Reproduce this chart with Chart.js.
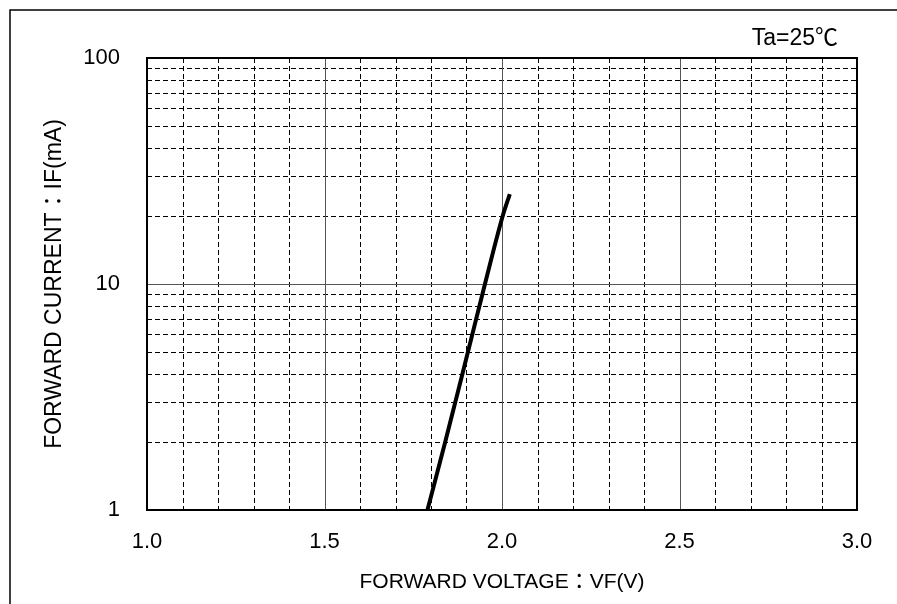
<!DOCTYPE html>
<html>
<head>
<meta charset="utf-8">
<script src="https://cdn.jsdelivr.net/npm/chart.js@4.4.1/dist/chart.umd.min.js"></script>
<style>
  html, body { margin: 0; padding: 0; background: #fff; }
  #wrap { width: 897px; height: 604px; position: relative; }
</style>
</head>
<body>
<div id="wrap"><canvas id="myChart"></canvas></div>
<script>
// forward voltage (V) vs forward current (mA)
const forwardVoltage = [1.79, 1.84, 1.904, 1.952, 2.002, 2.022];
const forwardCurrent = [1, 2, 5, 10, 20, 25];

const xTicks = [1.0, 1.5, 2.0, 2.5, 3.0];
const xMinorGrid = [1.1, 1.2, 1.3, 1.4, 1.6, 1.7, 1.8, 1.9, 2.1, 2.2, 2.3, 2.4, 2.6, 2.7, 2.8, 2.9];
const xMajorGrid = [1.5, 2.0, 2.5];
const yTicks = [1, 10, 100];
const yMinorGrid = [2, 3, 4, 5, 6, 7, 8, 9, 20, 30, 40, 50, 60, 70, 80, 90];
const yMajorGrid = [10];

const FONT = "'Liberation Sans', Arial, 'Noto Sans CJK JP', sans-serif";

// dashed/solid grid paper + frame + Ta note
const paperPlugin = {
    id: "paper",
    beforeDatasetsDraw(chart) {
        const ctx = chart.ctx;
        const area = chart.chartArea;
        const xs = chart.scales.x;
        const ys = chart.scales.y;
        ctx.save();

        // minor dashed lines
        ctx.strokeStyle = "#000";
        ctx.lineWidth = 1;
        ctx.setLineDash([5, 3]);
        xMinorGrid.forEach(v => {
            const px = Math.round(xs.getPixelForValue(v)) + 0.5;
            ctx.beginPath();
            ctx.moveTo(px, area.top);
            ctx.lineTo(px, area.bottom);
            ctx.stroke();
        });
        yMinorGrid.forEach(v => {
            const py = Math.round(ys.getPixelForValue(v)) + 0.5;
            ctx.beginPath();
            ctx.moveTo(area.left, py);
            ctx.lineTo(area.right, py);
            ctx.stroke();
        });

        // major solid lines
        ctx.setLineDash([]);
        ctx.strokeStyle = "#555";
        xMajorGrid.forEach(v => {
            const px = Math.round(xs.getPixelForValue(v)) + 0.5;
            ctx.beginPath();
            ctx.moveTo(px, area.top);
            ctx.lineTo(px, area.bottom);
            ctx.stroke();
        });
        yMajorGrid.forEach(v => {
            const py = Math.round(ys.getPixelForValue(v)) + 0.5;
            ctx.beginPath();
            ctx.moveTo(area.left, py);
            ctx.lineTo(area.right, py);
            ctx.stroke();
        });

        // plot border
        ctx.strokeStyle = "#000";
        ctx.lineWidth = 2;
        ctx.strokeRect(area.left, area.top, area.right - area.left, area.bottom - area.top);

        // outer frame (only left and top visible)
        ctx.lineWidth = 1.5;
        ctx.beginPath();
        ctx.moveTo(10, chart.height);
        ctx.lineTo(10, 10);
        ctx.lineTo(chart.width, 10);
        ctx.stroke();

        // temperature note
        ctx.fillStyle = "#000";
        ctx.font = "23px " + FONT;
        ctx.textAlign = "right";
        ctx.textBaseline = "middle";
        ctx.fillText("Ta=25℃", 838, 39);
        ctx.restore();
    }
};

const ctx = document.getElementById("myChart").getContext("2d");
const chartInstance = new Chart(ctx, {
    type: "line",
    data: {
        datasets: [{
            data: forwardVoltage.map((v, i) => ({ x: v, y: forwardCurrent[i] })),
            borderColor: "#000",
            borderWidth: 4,
            pointRadius: 0,
            cubicInterpolationMode: "monotone",
            fill: false
        }]
    },
    options: {
        responsive: true,
        maintainAspectRatio: false,
        animation: false,
        layout: { padding: { left: 0, top: 58, right: 40, bottom: 0 } },
        plugins: {
            legend: { display: false },
            tooltip: { enabled: false }
        },
        scales: {
            x: {
                type: "linear",
                min: 1,
                max: 3,
                afterBuildTicks: scale => { scale.ticks = xTicks.map(v => ({ value: v })); },
                afterFit: scale => { scale.height = 94; },
                grid: { display: false, drawTicks: false },
                border: { display: false },
                ticks: {
                    color: "#000",
                    padding: 19,
                    font: { family: FONT, size: 22 },
                    callback: v => Number(v).toFixed(1)
                },
                title: {
                    display: true,
                    text: "FORWARD VOLTAGE：VF(V)",
                    color: "#000",
                    font: { family: FONT, size: 21 },
                    padding: { top: 0, bottom: 9 }
                }
            },
            y: {
                type: "logarithmic",
                min: 1,
                max: 100,
                afterBuildTicks: scale => { scale.ticks = yTicks.map(v => ({ value: v })); },
                afterFit: scale => { scale.width = 147; },
                grid: { display: false, drawTicks: false },
                border: { display: false },
                ticks: {
                    color: "#000",
                    padding: 27,
                    font: { family: FONT, size: 22 },
                    callback: v => String(v)
                },
                title: {
                    display: true,
                    text: "FORWARD CURRENT：IF(mA)",
                    color: "#000",
                    font: { family: FONT, size: 23 },
                    padding: { top: 41, bottom: 0 }
                }
            }
        }
    },
    plugins: [paperPlugin]
});
</script>
</body>
</html>
